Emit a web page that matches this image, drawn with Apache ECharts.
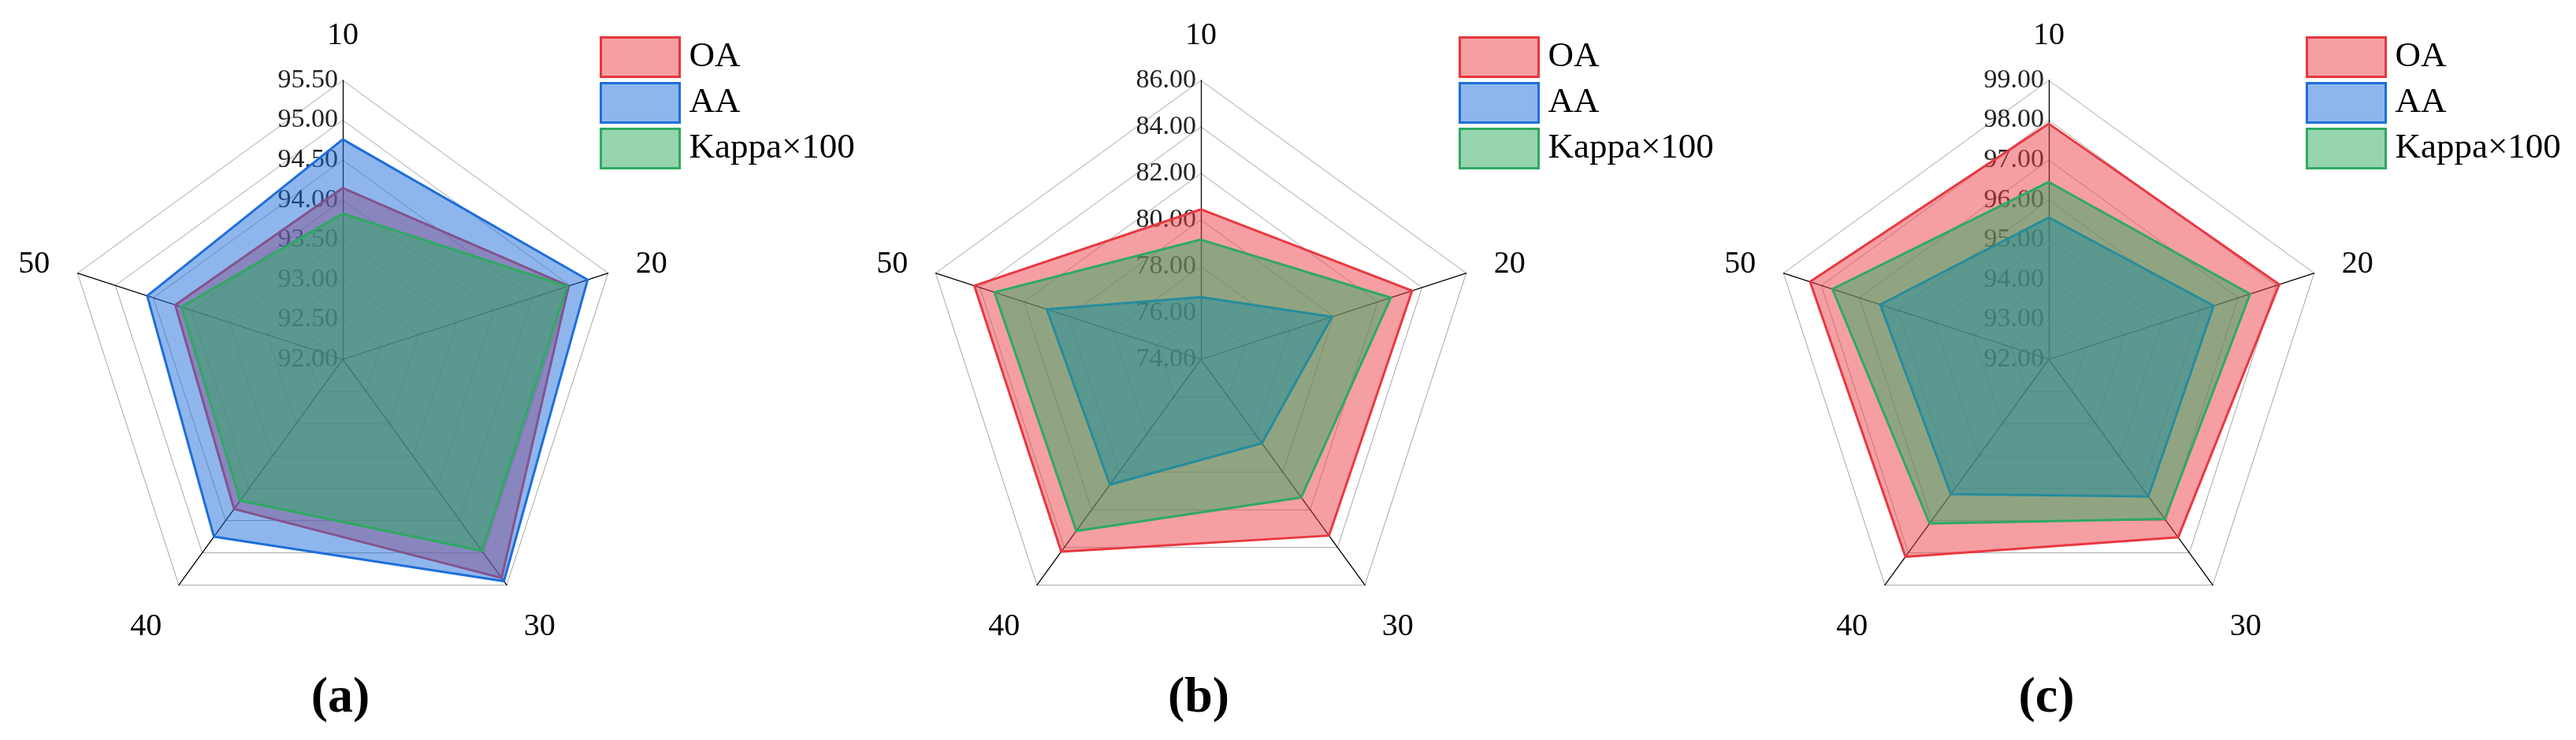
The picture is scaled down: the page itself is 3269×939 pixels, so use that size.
<!DOCTYPE html>
<html>
<head>
<meta charset="utf-8">
<script src="https://cdn.jsdelivr.net/npm/echarts@6/dist/echarts.min.js"></script>
<style>
html,body{margin:0;padding:0;background:#fff;}
#chart{width:3269px;height:939px;}
</style>
</head>
<body>
<div id="chart"></div>
<script>
// ---- data ----
const indicatorNames = ['10', '20', '30', '40', '50'];
const seriesNames = ['OA', 'AA', 'Kappa×100'];
const panelLabels = ['(a)', '(b)', '(c)'];
const axisMins = [92, 74, 92];
const axisMaxs = [95.5, 86, 99];
const splitCounts = [7, 6, 7];

const oaA = [94.15, 94.98, 95.39, 94.32, 94.21];
const aaA = [94.76, 95.23, 95.44, 94.75, 94.58];
const kappaA = [93.83, 94.96, 94.97, 94.19, 94.13];

const oaB = [80.45, 83.55, 83.37, 84.22, 84.25];
const aaB = [76.68, 79.93, 78.46, 80.66, 80.97];
const kappaB = [79.15, 82.59, 81.34, 83.12, 83.34];

const oaC = [97.91, 98.08, 97.52, 98.12, 98.30];
const aaC = [95.56, 96.35, 96.25, 96.18, 96.45];
const kappaC = [96.45, 97.31, 96.95, 97.09, 97.71];

// ---- styling ----
const FONT = "Liberation Serif, Times New Roman, serif";
const lineColors = ['#E8363D', '#1E6FD9', '#2EAA62'];
const fillColors = ['rgba(236,64,72,0.5)', 'rgba(30,110,220,0.5)', 'rgba(45,170,95,0.5)'];
const centersX = [435, 1524, 2600];
const legendLeft = [761, 1851, 2926];
const centerY = 456;
const radius = 354;
const lowerNames = ['30', '40'];

const panels = [[oaA, aaA, kappaA], [oaB, aaB, kappaB], [oaC, aaC, kappaC]];

// ECharts lays indicators counter-clockwise; reorder so they run clockwise
const order = [0, 4, 3, 2, 1];
const reorder = arr => order.map(i => arr[i]);

const radars = panels.map((p, k) => ({
  center: [centersX[k], centerY],
  radius: radius,
  startAngle: 90,
  shape: 'polygon',
  splitNumber: splitCounts[k],
  axisNameGap: 37,
  axisName: {
    color: '#000',
    fontSize: 40,
    fontFamily: FONT,
    formatter: name => lowerNames.indexOf(name) >= 0 ? '{low|' + name + '}' : '{n|' + name + '}',
    rich: {
      n: { fontSize: 40, fontFamily: FONT, color: '#000' },
      low: { fontSize: 40, fontFamily: FONT, color: '#000', padding: [46, 0, 0, 0] }
    }
  },
  indicator: order.map((i, j) => ({
    name: indicatorNames[i],
    min: axisMins[k],
    max: axisMaxs[k],
    axisLabel: { show: j === 0 }
  })),
  axisLine: { lineStyle: { color: '#000', width: 1.3 } },
  splitLine: { lineStyle: { color: '#a6a6a6', width: 1 } },
  splitArea: { show: false },
  axisTick: { show: false },
  axisLabel: {
    show: true,
    fontSize: 34,
    fontFamily: FONT,
    color: '#222',
    margin: 6,
    formatter: v => Number(v).toFixed(2)
  }
}));

const series = panels.map((p, k) => ({
  type: 'radar',
  radarIndex: k,
  symbol: 'none',
  silent: true,
  data: p.map((vals, s) => ({
    name: seriesNames[s],
    value: reorder(vals),
    lineStyle: { color: lineColors[s], width: 3 },
    itemStyle: { color: lineColors[s] },
    areaStyle: { color: fillColors[s], opacity: 1 }
  }))
}));

const legends = panels.map((p, k) => ({
  orient: 'vertical',
  left: legendLeft[k],
  top: 46,
  padding: 0,
  itemWidth: 100,
  itemHeight: 50,
  itemGap: 5,
  icon: 'rect',
  selectedMode: false,
  textStyle: { fontSize: 45, fontFamily: FONT, color: '#000', padding: [0, 0, 0, 7], lineHeight: 50 },
  data: seriesNames.map((n, s) => ({
    name: n,
    itemStyle: { color: fillColors[s], borderColor: lineColors[s], borderWidth: 3 }
  }))
}));

const titles = panelLabels.map((t, k) => ({
  type: 'text',
  x: centersX[k] - 3,
  y: 886,
  style: { text: t, align: 'center', verticalAlign: 'middle', font: 'bold 64px ' + FONT, fill: '#000' }
}));

const chart = echarts.init(document.getElementById('chart'), null, { renderer: 'canvas' });
chart.setOption({
  backgroundColor: '#fff',
  animation: false,
  radar: radars,
  legend: legends,
  series: series,
  graphic: titles
});
</script>
</body>
</html>
